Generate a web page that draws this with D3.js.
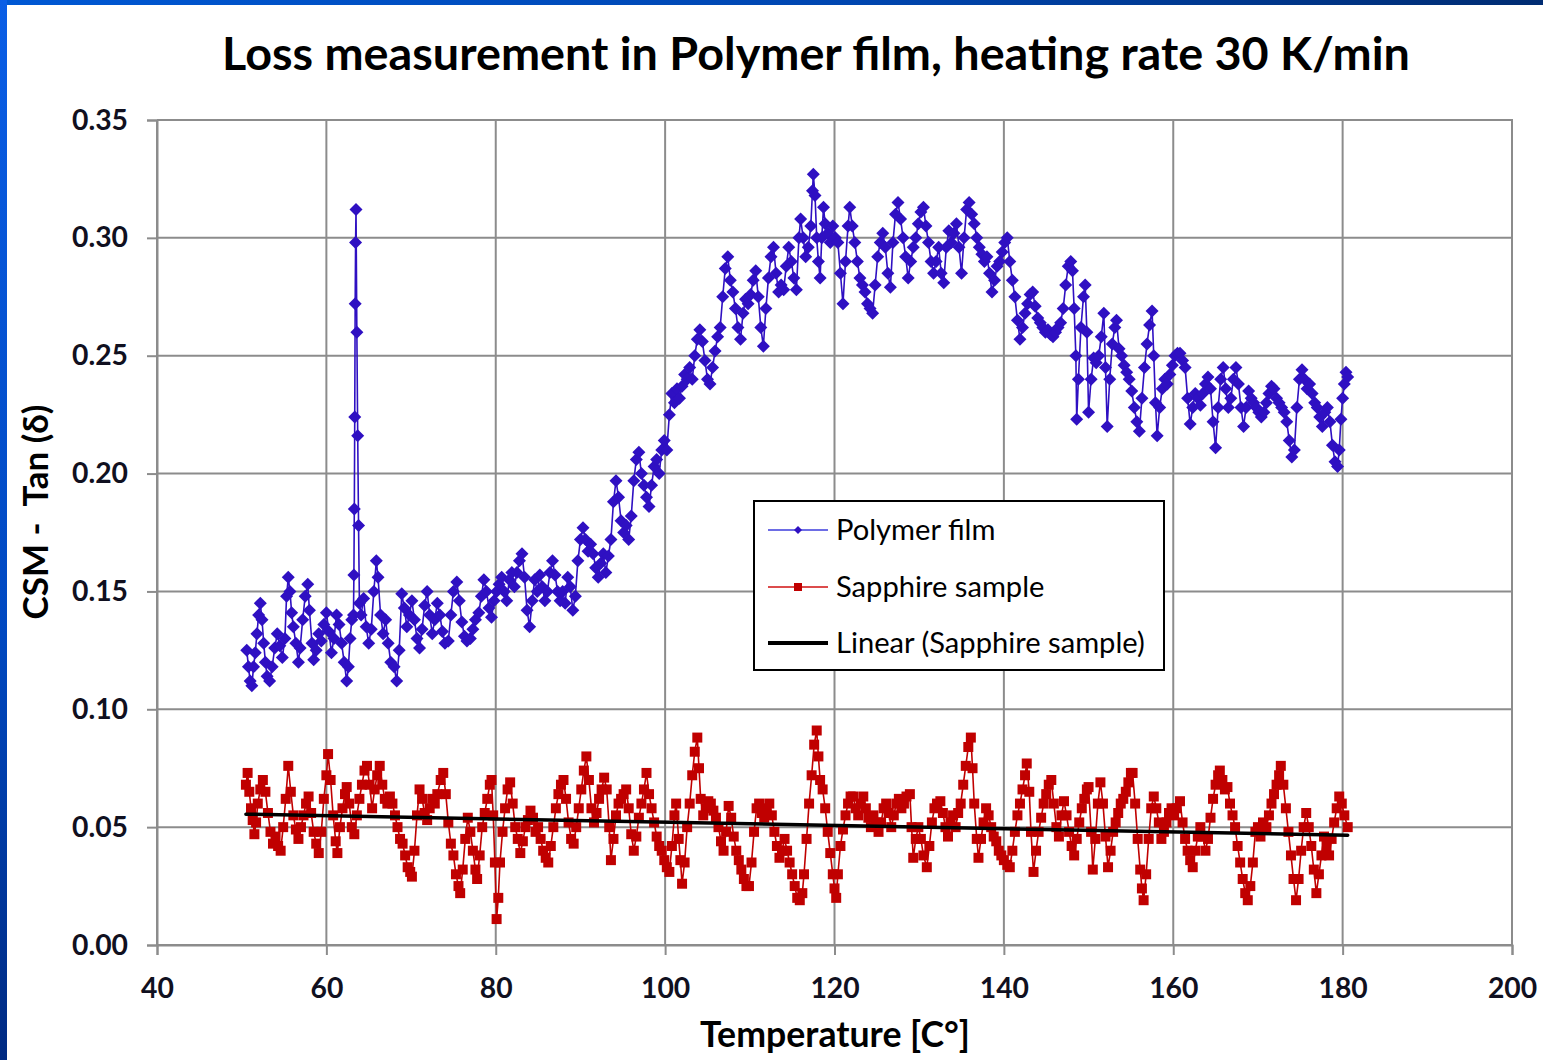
<!DOCTYPE html>
<html>
<head>
<meta charset="utf-8">
<script src="https://cdn.jsdelivr.net/npm/d3@7"></script>
<style>
  html, body { margin: 0; padding: 0; background: #ffffff; }
  svg { display: block; }
  text { font-family: Lato, "Open Sans", "DejaVu Sans", sans-serif; }
</style>
</head>
<body>
<svg id="chart" width="1543" height="1060"></svg>
<script>
// ---- Data -------------------------------------------------------------
const chartTitle = "Loss measurement in Polymer film, heating rate 30 K/min";
const xTicks = [40, 60, 80, 100, 120, 140, 160, 180, 200];
const yTicks = [0, 0.05, 0.10, 0.15, 0.20, 0.25, 0.30, 0.35];
const seriesNames = ["Polymer film", "Sapphire sample", "Linear (Sapphire sample)"];

// Polymer film: temperature [°C] and tan(δ)
const polymerTemp = [
  50.6,50.8,51.0,51.2,51.4,51.6,51.8,52.0,52.2,52.4,
  52.6,52.8,53.0,53.3,53.6,53.9,54.2,54.5,54.8,55.1,
  55.3,55.5,55.7,55.9,56.1,56.4,56.7,56.9,57.2,57.5,
  57.8,58.0,58.3,58.5,58.8,59.1,59.4,59.7,60.0,60.3,
  60.6,60.9,61.2,61.5,61.8,62.1,62.4,62.6,62.8,63.0,
  63.2,63.25,63.3,63.35,63.4,63.45,63.5,63.6,63.7,63.8,
  63.9,64.1,64.4,64.7,65.0,65.3,65.6,65.9,66.1,66.4,
  66.7,67.0,67.3,67.6,68.0,68.3,68.6,68.9,69.2,69.5,
  69.8,70.1,70.4,70.7,71.0,71.3,71.6,71.9,72.2,72.5,
  72.8,73.1,73.4,73.7,74.0,74.4,74.7,75.0,75.4,75.7,
  76.0,76.3,76.6,77.0,77.3,77.6,78.0,78.3,78.6,78.9,
  79.2,79.5,79.8,80.1,80.4,80.7,81.0,81.3,81.6,81.9,
  82.2,82.5,82.8,83.1,83.4,83.7,84.0,84.3,84.6,84.9,
  85.2,85.5,85.8,86.1,86.4,86.7,87.0,87.3,87.6,87.9,
  88.2,88.5,88.8,89.1,89.4,89.7,90.0,90.3,90.6,90.9,
  91.2,91.5,91.8,92.1,92.4,92.7,93.0,93.3,93.6,93.9,
  94.2,94.5,94.8,95.1,95.4,95.7,96.0,96.3,96.6,96.9,
  97.2,97.5,97.8,98.1,98.4,98.7,99.0,99.3,99.6,99.9,
  100.2,100.5,100.8,101.1,101.4,101.7,102.0,102.3,102.6,102.9,
  103.2,103.5,103.8,104.1,104.4,104.7,105.0,105.3,105.6,105.9,
  106.2,106.5,106.8,107.1,107.4,107.7,108.0,108.3,108.6,108.9,
  109.2,109.5,109.8,110.1,110.4,110.7,111.0,111.3,111.6,111.9,
  112.2,112.5,112.8,113.1,113.4,113.7,114.0,114.3,114.6,114.9,
  115.2,115.5,115.8,116.0,116.3,116.6,116.9,117.2,117.4,117.5,
  117.7,117.9,118.1,118.3,118.5,118.7,118.9,119.2,119.5,119.8,
  120.1,120.4,120.7,121.0,121.3,121.6,121.8,122.1,122.4,122.7,
  123.0,123.3,123.6,123.9,124.2,124.5,124.8,125.1,125.4,125.7,
  126.0,126.3,126.6,126.9,127.2,127.5,127.8,128.1,128.4,128.7,
  129.0,129.3,129.6,129.9,130.2,130.5,130.8,131.1,131.4,131.7,
  132.0,132.3,132.6,132.9,133.2,133.5,133.8,134.1,134.4,134.7,
  135.0,135.3,135.6,135.9,136.2,136.5,136.8,137.1,137.4,137.7,
  138.0,138.3,138.6,138.9,139.2,139.5,139.8,140.1,140.4,140.7,
  141.0,141.3,141.6,141.9,142.2,142.5,142.8,143.1,143.4,143.7,
  144.0,144.3,144.6,144.9,145.2,145.5,145.8,146.1,146.4,146.7,
  147.0,147.3,147.6,147.9,148.1,148.3,148.5,148.6,148.8,149.1,
  149.4,149.6,149.8,150.0,150.3,150.6,150.9,151.2,151.5,151.8,
  152.0,152.2,152.5,152.8,153.1,153.3,153.6,153.9,154.2,154.5,
  154.8,155.1,155.4,155.7,156.0,156.3,156.6,156.9,157.2,157.5,
  157.7,157.9,158.1,158.4,158.7,159.0,159.3,159.6,159.9,160.2,
  160.5,160.8,161.1,161.4,161.7,162.0,162.3,162.6,162.9,163.2,
  163.5,163.8,164.1,164.4,164.7,165.0,165.3,165.6,165.9,166.2,
  166.5,166.8,167.1,167.4,167.7,168.0,168.3,168.6,168.9,169.2,
  169.5,169.8,170.1,170.4,170.7,171.0,171.3,171.6,171.9,172.2,
  172.5,172.8,173.1,173.4,173.7,174.0,174.3,174.6,174.9,175.2,
  175.5,175.8,176.1,176.4,176.7,177.0,177.3,177.6,177.9,178.2,
  178.5,178.8,179.1,179.4,179.6,179.8,180.0,180.2,180.4,180.6
];
const polymerTan = [
  .125,.118,.112,.110,.118,.124,.132,.140,.145,.138,
  .128,.120,.114,.112,.118,.126,.132,.127,.122,.130,
  .148,.156,.150,.141,.135,.128,.120,.126,.138,.148,
  .153,.142,.128,.121,.125,.132,.129,.136,.141,.133,
  .124,.130,.140,.136,.128,.120,.112,.118,.130,.138,
  .140,.157,.185,.224,.272,.298,.312,.260,.216,.178,
  .145,.140,.147,.135,.128,.134,.150,.163,.156,.140,
  .132,.138,.128,.120,.118,.112,.125,.149,.143,.135,
  .140,.146,.138,.130,.126,.134,.144,.150,.140,.132,
  .138,.145,.140,.133,.128,.129,.140,.150,.154,.146,
  .137,.131,.129,.130,.134,.138,.141,.148,.155,.150,
  .143,.139,.146,.150,.153,.156,.150,.146,.155,.158,
  .152,.158,.163,.166,.156,.142,.135,.146,.155,.150,
  .157,.152,.146,.150,.158,.163,.157,.150,.146,.150,
  .145,.156,.152,.142,.148,.163,.172,.177,.172,.167,
  .170,.166,.160,.156,.162,.166,.158,.165,.172,.188,
  .197,.190,.180,.175,.178,.172,.182,.197,.206,.209,
  .200,.195,.190,.186,.195,.203,.206,.200,.210,.214,
  .210,.225,.234,.230,.236,.232,.237,.242,.240,.245,
  .240,.250,.257,.261,.256,.248,.240,.238,.245,.252,
  .258,.262,.275,.287,.292,.282,.277,.270,.262,.257,
  .268,.274,.272,.276,.282,.286,.275,.262,.254,.270,
  .283,.292,.296,.285,.277,.280,.278,.288,.296,.290,
  .283,.278,.300,.308,.300,.292,.296,.305,.320,.327,
  .318,.300,.290,.283,.300,.313,.306,.302,.298,.305,
  .300,.298,.285,.272,.290,.305,.313,.305,.298,.290,
  .283,.280,.277,.272,.270,.268,.280,.292,.298,.302,
  .296,.285,.279,.298,.310,.315,.308,.300,.292,.283,
  .290,.296,.300,.306,.311,.313,.305,.298,.290,.285,
  .290,.296,.285,.281,.296,.303,.298,.302,.306,.296,
  .285,.300,.312,.315,.310,.306,.300,.296,.293,.290,
  .292,.285,.277,.282,.288,.290,.294,.298,.300,.290,
  .282,.275,.265,.257,.262,.268,.272,.276,.277,.271,
  .266,.264,.262,.260,.261,.259,.258,.260,.262,.264,
  .270,.280,.288,.290,.286,.270,.250,.223,.240,.262,
  .275,.280,.260,.226,.240,.249,.247,.250,.258,.268,
  .245,.220,.240,.255,.262,.265,.253,.250,.246,.243,
  .240,.235,.228,.222,.218,.232,.245,.255,.263,.269,
  .250,.230,.216,.228,.236,.240,.238,.242,.246,.250,
  .251,.251,.248,.245,.232,.221,.228,.234,.232,.229,
  .234,.238,.241,.236,.222,.211,.228,.240,.245,.236,
  .228,.232,.240,.245,.238,.228,.220,.228,.235,.232,
  .230,.228,.226,.224,.226,.230,.234,.237,.236,.232,
  .230,.228,.226,.222,.214,.207,.210,.228,.240,.244,
  .240,.236,.238,.234,.230,.228,.224,.220,.226,.228,
  .222,.212,.205,.203,.210,.223,.232,.238,.243,.241
];

// Sapphire sample: temperature [°C] and tan(δ)
const sapphireTemp = [
  50.5,50.7,50.9,51.1,51.3,51.5,51.7,51.9,52.2,52.5,
  52.8,53.1,53.4,53.7,54.0,54.3,54.6,54.9,55.2,55.5,
  55.8,56.1,56.4,56.7,57.0,57.3,57.6,57.9,58.2,58.5,
  58.8,59.1,59.4,59.7,60.0,60.2,60.5,60.8,61.1,61.3,
  61.6,61.9,62.2,62.4,62.7,63.0,63.3,63.6,63.9,64.2,
  64.5,64.8,65.1,65.4,65.7,66.0,66.3,66.6,66.9,67.2,
  67.5,67.8,68.1,68.4,68.7,69.0,69.3,69.6,69.9,70.1,
  70.4,70.7,71.0,71.3,71.6,71.9,72.2,72.5,72.8,73.1,
  73.5,73.8,74.1,74.4,74.7,75.0,75.3,75.6,75.8,76.1,
  76.4,76.7,77.0,77.3,77.6,77.8,78.1,78.4,78.7,79.0,
  79.3,79.5,79.7,79.9,80.1,80.3,80.5,80.8,81.1,81.4,
  81.7,82.0,82.3,82.6,82.9,83.2,83.5,83.8,84.1,84.4,
  84.7,85.0,85.3,85.6,85.9,86.2,86.5,86.8,87.1,87.4,
  87.7,88.0,88.3,88.6,88.9,89.2,89.5,89.8,90.1,90.4,
  90.7,91.0,91.3,91.6,91.9,92.2,92.5,92.8,93.1,93.4,
  93.6,93.9,94.2,94.5,94.8,95.1,95.4,95.7,96.0,96.3,
  96.6,96.9,97.2,97.5,97.8,98.1,98.4,98.7,99.0,99.3,
  99.6,99.9,100.2,100.5,100.8,101.1,101.3,101.6,101.8,102.0,
  102.3,102.6,102.9,103.2,103.5,103.8,104.0,104.2,104.5,104.8,
  105.1,105.4,105.7,106.0,106.3,106.6,106.9,107.2,107.5,107.8,
  108.1,108.4,108.7,109.0,109.3,109.6,109.9,110.2,110.5,110.8,
  111.1,111.4,111.7,112.0,112.3,112.6,112.9,113.2,113.5,113.8,
  114.1,114.4,114.7,115.0,115.3,115.6,115.9,116.2,116.4,116.7,
  117.0,117.3,117.6,117.9,118.1,118.3,118.6,118.9,119.2,119.5,
  119.8,120.0,120.2,120.4,120.7,121.0,121.3,121.6,121.9,122.2,
  122.5,122.8,123.1,123.4,123.7,124.0,124.3,124.6,124.9,125.2,
  125.5,125.8,126.1,126.4,126.7,127.0,127.3,127.6,127.9,128.2,
  128.5,128.9,129.1,129.3,129.6,129.9,130.2,130.5,130.9,131.2,
  131.5,131.8,132.1,132.5,132.8,133.1,133.4,133.7,134.0,134.3,
  134.6,134.9,135.2,135.5,135.8,136.1,136.3,136.5,136.8,137.0,
  137.3,137.6,137.9,138.2,138.5,138.8,139.1,139.4,139.7,140.0,
  140.4,140.7,141.0,141.3,141.6,141.9,142.2,142.5,142.7,143.0,
  143.2,143.5,143.8,144.1,144.4,144.7,145.0,145.3,145.6,145.9,
  146.2,146.5,146.8,147.1,147.4,147.7,148.0,148.3,148.6,148.9,
  149.2,149.5,149.8,150.0,150.3,150.5,150.8,151.1,151.4,151.7,
  152.0,152.3,152.6,152.9,153.2,153.5,153.8,154.1,154.4,154.7,
  155.0,155.2,155.5,155.8,156.1,156.3,156.5,156.8,157.1,157.4,
  157.7,158.0,158.3,158.6,158.9,159.2,159.5,159.8,160.1,160.4,
  160.8,161.1,161.4,161.7,162.0,162.3,162.6,162.9,163.2,163.5,
  163.8,164.1,164.4,164.7,165.0,165.3,165.5,165.8,166.1,166.4,
  166.7,167.0,167.3,167.6,167.9,168.2,168.5,168.8,169.1,169.4,
  169.7,170.0,170.3,170.6,171.0,171.3,171.6,171.9,172.2,172.5,
  172.7,173.0,173.3,173.6,173.9,174.2,174.5,174.8,175.1,175.4,
  175.7,176.0,176.3,176.6,176.9,177.2,177.5,177.8,178.1,178.4,
  178.7,179.0,179.3,179.6,179.9,180.2,180.6
];
const sapphireTan = [
  .068,.073,.065,.058,.053,.047,.052,.060,.066,.070,
  .065,.056,.048,.043,.046,.042,.040,.050,.062,.076,
  .065,.055,.049,.045,.050,.055,.060,.063,.056,.048,
  .043,.039,.048,.062,.072,.081,.070,.055,.044,.039,
  .050,.058,.064,.067,.060,.050,.047,.055,.062,.068,
  .074,.076,.068,.058,.066,.072,.076,.068,.062,.060,
  .063,.060,.055,.050,.045,.043,.038,.033,.031,.029,
  .040,.055,.066,.062,.056,.053,.058,.062,.060,.064,
  .070,.073,.064,.052,.043,.038,.030,.025,.022,.032,
  .045,.054,.048,.040,.032,.028,.038,.050,.056,.062,
  .068,.070,.055,.035,.011,.020,.035,.048,.058,.066,
  .069,.060,.050,.045,.039,.044,.050,.053,.057,.054,
  .048,.050,.045,.040,.037,.035,.042,.050,.058,.064,
  .068,.070,.062,.052,.045,.043,.050,.058,.066,.074,
  .080,.070,.058,.052,.056,.062,.066,.071,.066,.050,
  .036,.045,.055,.060,.062,.064,.066,.058,.047,.040,
  .046,.054,.060,.066,.073,.064,.058,.052,.046,.042,
  .040,.036,.033,.031,.042,.055,.060,.045,.036,.026,
  .035,.050,.060,.072,.082,.088,.075,.062,.055,.058,
  .061,.060,.057,.054,.050,.044,.040,.048,.059,.054,
  .046,.040,.036,.032,.028,.025,.025,.035,.048,.058,
  .060,.056,.054,.058,.060,.055,.048,.042,.037,.040,
  .045,.040,.035,.030,.025,.020,.019,.022,.030,.045,
  .060,.072,.085,.091,.080,.070,.066,.058,.048,.039,
  .030,.024,.020,.030,.042,.049,.055,.060,.063,.063,
  .058,.055,.060,.063,.058,.054,.050,.055,.052,.048,
  .052,.058,.060,.056,.050,.055,.060,.062,.058,.060,
  .063,.064,.050,.037,.045,.050,.045,.038,.033,.042,
  .052,.058,.060,.061,.056,.050,.046,.052,.055,.050,
  .056,.060,.068,.076,.084,.088,.075,.060,.045,.037,
  .045,.052,.058,.055,.050,.046,.044,.040,.038,.036,
  .034,.033,.040,.048,.055,.060,.066,.072,.077,.065,
  .048,.031,.040,.048,.054,.060,.064,.068,.070,.060,
  .050,.046,.055,.061,.055,.048,.042,.038,.045,.052,
  .058,.062,.066,.067,.048,.032,.045,.060,.069,.060,
  .046,.033,.040,.048,.052,.056,.060,.062,.065,.069,
  .073,.073,.060,.045,.032,.024,.019,.030,.045,.058,
  .063,.058,.052,.045,.048,.052,.056,.058,.055,.058,
  .061,.052,.045,.040,.036,.033,.040,.046,.050,.046,
  .040,.045,.054,.062,.068,.072,.074,.070,.066,.067,
  .060,.055,.050,.042,.035,.028,.022,.019,.025,.035,
  .048,.050,.046,.052,.050,.055,.060,.064,.068,.072,
  .076,.068,.058,.048,.038,.028,.019,.028,.040,.050,
  .056,.050,.042,.032,.022,.030,.038,.046,.042,.038,
  .045,.052,.058,.063,.060,.055,.050
];

// Linear trendline fitted to the full sapphire record: tan(δ) = slope·T + intercept
const sapphireTrend = { slope: -0.000069, intercept: 0.0590 };

// ---- Setup ------------------------------------------------------------
const W = 1543, H = 1060;
const plot = { left: 157, right: 1512, top: 120, bottom: 945 };
const blue = "#2f10c2", red = "#c00000", gridColor = "#8c8c8c", textColor = "#101020";

const svg = d3.select("#chart");
const x = d3.scaleLinear().domain([40, 200]).range([plot.left, plot.right]);
const y = d3.scaleLinear().domain([0, 0.35]).range([plot.bottom, plot.top]);

const polymer = polymerTemp.map((t, i) => ({ t, v: polymerTan[i] }));
const sapphire = sapphireTemp.map((t, i) => ({ t, v: sapphireTan[i] }));

// Slide frame: blue bars along the top and left edges
const defs = svg.append("defs");
const topGrad = defs.append("linearGradient").attr("id", "topBar").attr("x1", 0).attr("x2", 1).attr("y1", 0).attr("y2", 0);
topGrad.append("stop").attr("offset", 0).attr("stop-color", "#0058d4");
topGrad.append("stop").attr("offset", 0.55).attr("stop-color", "#0046b0");
topGrad.append("stop").attr("offset", 1).attr("stop-color", "#002c72");
const leftGrad = defs.append("linearGradient").attr("id", "leftBar").attr("x1", 0).attr("x2", 0).attr("y1", 0).attr("y2", 1);
leftGrad.append("stop").attr("offset", 0).attr("stop-color", "#0a5ee6");
leftGrad.append("stop").attr("offset", 0.6).attr("stop-color", "#0048c0");
leftGrad.append("stop").attr("offset", 1).attr("stop-color", "#002a82");

svg.append("rect").attr("width", W).attr("height", H).attr("fill", "#ffffff");
svg.append("rect").attr("x", 0).attr("y", 0).attr("width", W).attr("height", 5).attr("fill", "url(#topBar)");
svg.append("rect").attr("x", 0).attr("y", 0).attr("width", 7).attr("height", H).attr("fill", "url(#leftBar)");

// Size a text element so that its rendered width equals the given width
function fitWidth(sel, width, base) {
  sel.style("font-size", base + "px");
  const w = sel.node().getComputedTextLength();
  const size = base * width / w;
  sel.style("font-size", size + "px");
  return size;
}

// ---- Title --------------------------------------------------------------
const title = svg.append("text")
  .attr("x", 816).attr("y", 70)
  .attr("text-anchor", "middle")
  .attr("fill", "#000")
  .style("font-weight", 700)
  .text(chartTitle);
fitWidth(title, 1188, 40);

// ---- Grid ---------------------------------------------------------------
const grid = svg.append("g").attr("stroke", gridColor).attr("stroke-width", 2).attr("fill", "none");
grid.selectAll("line.h").data(yTicks).join("line").attr("class", "h")
  .attr("x1", plot.left).attr("x2", plot.right)
  .attr("y1", d => y(d)).attr("y2", d => y(d));
grid.selectAll("line.v").data(xTicks).join("line").attr("class", "v")
  .attr("y1", plot.top).attr("y2", plot.bottom)
  .attr("x1", d => x(d)).attr("x2", d => x(d));

// ---- Axes ---------------------------------------------------------------
const probe = svg.append("text").style("font-weight", 700).text("0.35");
const tickSize = fitWidth(probe, 56, 24);
probe.remove();

const yAxis = svg.append("g")
  .attr("transform", `translate(${plot.left},0)`)
  .call(d3.axisLeft(y).tickValues(yTicks).tickFormat(d3.format(".2f")).tickSize(10).tickPadding(19));
const xAxis = svg.append("g")
  .attr("transform", `translate(0,${plot.bottom})`)
  .call(d3.axisBottom(x).tickValues(xTicks).tickFormat(d3.format("d")).tickSize(10).tickPadding(23));
[yAxis, xAxis].forEach(g => {
  g.selectAll(".domain").attr("stroke", gridColor).attr("stroke-width", 2);
  g.selectAll(".tick line").attr("stroke", gridColor).attr("stroke-width", 2);
  g.selectAll(".tick text")
    .attr("fill", textColor)
    .style("font-family", "Lato, 'Open Sans', sans-serif")
    .style("font-weight", 700)
    .style("font-size", tickSize + "px");
});

const yTitle = svg.append("text")
  .attr("transform", "translate(48,512) rotate(-90)")
  .attr("text-anchor", "middle")
  .attr("fill", "#000")
  .style("font-weight", 700)
  .style("white-space", "pre")
  .text("CSM -  Tan (δ)");
fitWidth(yTitle, 215, 26);

const xTitle = svg.append("text")
  .attr("x", 835).attr("y", 1047)
  .attr("text-anchor", "middle")
  .attr("fill", "#000")
  .style("font-weight", 700)
  .text("Temperature [C°]");
fitWidth(xTitle, 270, 28);

// ---- Series -------------------------------------------------------------
const clip = defs.append("clipPath").attr("id", "plotClip");
clip.append("rect").attr("x", plot.left).attr("y", plot.top - 10)
  .attr("width", plot.right - plot.left).attr("height", plot.bottom - plot.top + 10);

const line = d3.line().x(d => x(d.t)).y(d => y(d.v));
const diamond = "M0,-6.5L6.5,0L0,6.5L-6.5,0Z";
const square = "M-5,-5H5V5H-5Z";

const layer = svg.append("g").attr("clip-path", "url(#plotClip)");

layer.append("path").datum(polymer)
  .attr("d", line).attr("fill", "none").attr("stroke", blue).attr("stroke-width", 1.6);
layer.append("g").selectAll("path").data(polymer).join("path")
  .attr("d", diamond)
  .attr("transform", d => `translate(${x(d.t)},${y(d.v)})`)
  .attr("fill", blue);

layer.append("path").datum(sapphire)
  .attr("d", line).attr("fill", "none").attr("stroke", red).attr("stroke-width", 1.6);
layer.append("g").selectAll("path").data(sapphire).join("path")
  .attr("d", square)
  .attr("transform", d => `translate(${x(d.t)},${y(d.v)})`)
  .attr("fill", red);

// Linear trendline across the sapphire temperature span
const trendT = d3.extent(sapphireTemp);
layer.append("path")
  .datum(trendT.map(t => ({ t, v: sapphireTrend.intercept + sapphireTrend.slope * t })))
  .attr("d", line)
  .attr("fill", "none").attr("stroke", "#000").attr("stroke-width", 3.5).attr("stroke-linecap", "round");

// Plot border (top and right)
svg.append("path")
  .attr("d", `M${plot.left},${plot.top}H${plot.right}V${plot.bottom}`)
  .attr("fill", "none").attr("stroke", gridColor).attr("stroke-width", 2);

// ---- Legend -------------------------------------------------------------
const legend = svg.append("g");
legend.append("rect").attr("x", 754).attr("y", 501).attr("width", 410).attr("height", 169)
  .attr("fill", "#fff").attr("stroke", "#000").attr("stroke-width", 2);
const rowsY = [530, 587, 643];
const legendColors = ["#3c3cdc", "#d01010", "#000"];
rowsY.forEach((ry, i) => {
  legend.append("line").attr("x1", 768).attr("x2", 828).attr("y1", ry).attr("y2", ry)
    .attr("stroke", legendColors[i]).attr("stroke-width", i === 2 ? 4 : 1.6);
});
legend.append("path").attr("d", "M0,-4L4,0L0,4L-4,0Z").attr("transform", `translate(798,${rowsY[0]})`).attr("fill", blue);
legend.append("path").attr("d", "M-4,-4H4V4H-4Z").attr("transform", `translate(798,${rowsY[1]})`).attr("fill", red);
const labels = legend.selectAll("text.lab").data(seriesNames).join("text").attr("class", "lab")
  .attr("x", 836).attr("y", (d, i) => rowsY[i])
  .attr("dy", "0.35em")
  .attr("fill", "#000")
  .text(d => d);
const legendSize = fitWidth(d3.select(labels.nodes()[2]), 309, 24);
labels.style("font-size", legendSize + "px");
</script>
</body>
</html>
